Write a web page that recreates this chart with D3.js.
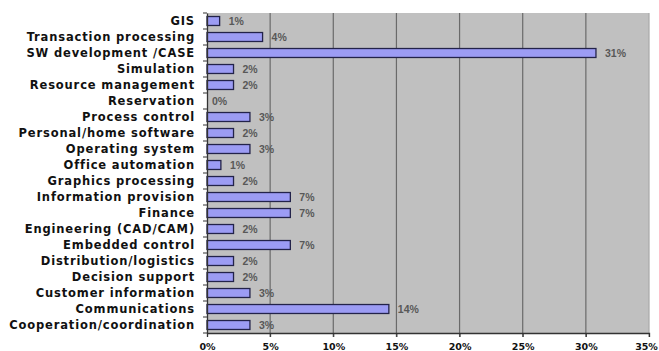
<!DOCTYPE html>
<html>
<head>
<meta charset="utf-8">
<script src="https://cdn.jsdelivr.net/npm/d3@7"></script>
<style>
  html, body { margin: 0; padding: 0; background: #fff; }
  svg { display: block; }
</style>
</head>
<body>
<svg id="chart" width="659" height="351"></svg>
<script>
// Application domains, listed top to bottom
const categories = [
  "GIS",
  "Transaction processing",
  "SW development /CASE",
  "Simulation",
  "Resource management",
  "Reservation",
  "Process control",
  "Personal/home software",
  "Operating system",
  "Office automation",
  "Graphics processing",
  "Information provision",
  "Finance",
  "Engineering (CAD/CAM)",
  "Embedded control",
  "Distribution/logistics",
  "Decision support",
  "Customer information",
  "Communications",
  "Cooperation/coordination"
];

// Share of projects per domain (fraction of total)
const shares = [
  0.010, 0.044, 0.308, 0.021, 0.021, 0.000, 0.034, 0.021, 0.034, 0.011,
  0.021, 0.066, 0.066, 0.021, 0.066, 0.021, 0.021, 0.034, 0.144, 0.034
];

const xTicks = [0, 0.05, 0.10, 0.15, 0.20, 0.25, 0.30, 0.35];

const svg = d3.select("#chart");
const plot = { left: 207, right: 649, top: 13, bottom: 333 };

const x = d3.scaleLinear().domain([0, 0.35]).range([plot.left, plot.right]);
const y = d3.scaleBand().domain(categories).range([plot.top, plot.bottom]).paddingInner(0.44).paddingOuter(0.22);
const pct = d3.format(".0%");

// plot background
svg.append("rect")
  .attr("x", plot.left).attr("y", plot.top)
  .attr("width", plot.right - plot.left).attr("height", plot.bottom - plot.top)
  .attr("fill", "#c0c0c0");

// vertical gridlines
svg.append("g")
  .selectAll("line")
  .data(xTicks.slice(1))
  .join("line")
  .attr("x1", d => x(d)).attr("x2", d => x(d))
  .attr("y1", plot.top).attr("y2", plot.bottom + 4)
  .attr("stroke", d => d === 0.35 ? "#a8a8a8" : "#6a6a6a")
  .attr("stroke-width", 1.2);

// bars
svg.append("g")
  .selectAll("rect")
  .data(categories.map((c, i) => ({ c, v: shares[i] })).filter(d => d.v > 0))
  .join("rect")
  .attr("x", x(0))
  .attr("y", d => y(d.c))
  .attr("width", d => x(d.v) - x(0))
  .attr("height", y.bandwidth())
  .attr("fill", "#9c9cf4")
  .attr("stroke", "#23234a")
  .attr("stroke-width", 1.3);

// value labels
svg.append("g")
  .selectAll("text")
  .data(categories.map((c, i) => ({ c, v: shares[i] })))
  .join("text")
  .attr("x", d => x(d.v) + (d.v > 0 ? 9 : 5))
  .attr("y", d => y(d.c) + y.bandwidth() / 2)
  .attr("dy", "0.35em")
  .attr("font-family", "Liberation Sans, Arial, sans-serif")
  .attr("font-size", "10.5px")
  .attr("font-weight", "bold")
  .attr("fill", "#585858")
  .text(d => pct(d.v));

// category axis
const yAxis = d3.axisLeft(y).tickSize(0).tickPadding(12);
const gy = svg.append("g").attr("transform", `translate(${plot.left},0)`).call(yAxis);
gy.select(".domain").attr("stroke", "#333").attr("stroke-width", 1.3);
gy.selectAll("text")
  .attr("font-family", "DejaVu Sans, sans-serif")
  .attr("font-size", "11.5px")
  .attr("font-weight", "bold")
  .attr("fill", "#111")
  .attr("letter-spacing", "0.85px");

// small ticks between category rows
const step = y.step();
svg.append("g")
  .selectAll("line")
  .data(d3.range(categories.length + 1))
  .join("line")
  .attr("x1", plot.left - 4).attr("x2", plot.left)
  .attr("y1", i => plot.top + i * step).attr("y2", i => plot.top + i * step)
  .attr("stroke", "#333").attr("stroke-width", 1);

// value axis
const xAxis = d3.axisBottom(x).tickValues(xTicks).tickFormat(pct).tickSize(4).tickPadding(6);
const gx = svg.append("g").attr("transform", `translate(0,${plot.bottom})`).call(xAxis);
gx.select(".domain").attr("stroke", "#333").attr("stroke-width", 1.3);
gx.selectAll(".tick line").attr("stroke", "#333");
gx.selectAll("text")
  .attr("font-family", "DejaVu Sans, sans-serif")
  .attr("font-size", "9.5px")
  .attr("font-weight", "bold")
  .attr("fill", "#111")
  .attr("dx", d => d === 0.35 ? "-3px" : 0);
</script>
</body>
</html>
